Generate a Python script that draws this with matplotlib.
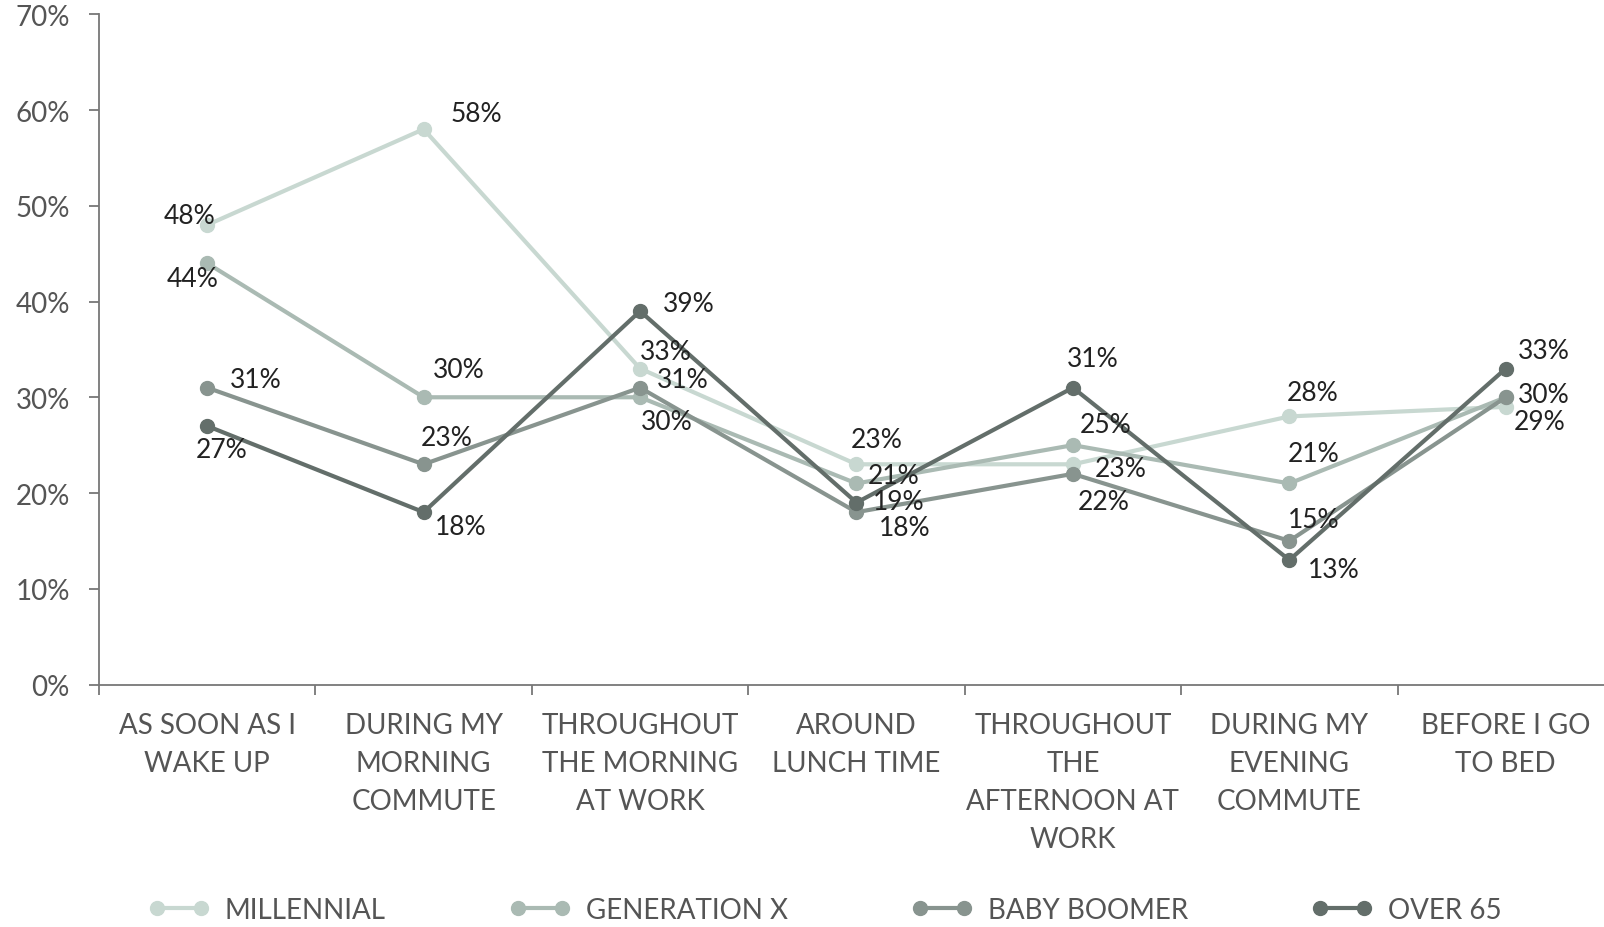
import matplotlib
matplotlib.use("Agg")
import matplotlib.pyplot as plt
from matplotlib.ticker import FixedLocator, NullFormatter

plt.rcParams['font.family'] = ['Lato', 'DejaVu Sans']

categories = ["AS SOON AS I\nWAKE UP", "DURING MY\nMORNING\nCOMMUTE",
              "THROUGHOUT\nTHE MORNING\nAT WORK", "AROUND\nLUNCH TIME",
              "THROUGHOUT\nTHE\nAFTERNOON AT\nWORK", "DURING MY\nEVENING\nCOMMUTE",
              "BEFORE I GO\nTO BED"]
series_names = ["MILLENNIAL", "GENERATION X", "BABY BOOMER", "OVER 65"]
millennial = [48, 58, 33, 23, 23, 28, 29]
generation_x = [44, 30, 30, 21, 25, 21, 30]
baby_boomer = [31, 23, 31, 18, 22, 15, 30]
over_65 = [27, 18, 39, 19, 31, 13, 33]
y_ticks = [0, 10, 20, 30, 40, 50, 60, 70]

series = [millennial, generation_x, baby_boomer, over_65]
colors = ["#c8d8d1", "#aabab3", "#88948f", "#636e6a"]

# label offsets (shown-pixel units, dx right, dy up); None = not drawn
offsets = [
    [(-17, 9), (52, 15), (25, 17), (20, 24), (47, -4), (23, 23), (33, -14)],
    [(-14, -15), (34, 27), (26, -24), (36, 8), (32, 20), (24, 29), (37, 3)],
    [(47, 8), (23, 26), (42, 8), (47, -15), (30, -27), (24, 21), None],
    [(14, -23), (36, -14), (48, 7), (41, 1), (19, 29), (43, -9), (37, 18)],
]

W, H = 1604, 928
fig = plt.figure(figsize=(W / 100, H / 100), dpi=100)
left, right = 99, 1614
top, bottom = 15.3, 685.5
ax = fig.add_axes([left / W, 1 - bottom / H, (right - left) / W, (bottom - top) / H])

x = list(range(len(categories)))
for vals, name, col, offs in zip(series, series_names, colors, offsets):
    ax.plot(x, vals, color=col, lw=3.0, marker='o', ms=10, label=name,
            solid_capstyle='round', clip_on=False)
    for xi, v, off in zip(x, vals, offs):
        if off is None:
            continue
        ax.annotate(f"{v}%", (xi, v), xytext=(off[0] * 0.7366, off[1] * 0.7366),
                    textcoords='offset points', ha='center', va='center',
                    fontsize=19, color='#222222')

ax.set_xlim(-0.5, len(categories) - 0.5)
ax.set_ylim(0, 70)
ax.set_yticks(y_ticks)
ax.set_yticklabels([f"{t}%" for t in y_ticks])
ax.set_xticks(x)
ax.set_xticklabels(categories, linespacing=1.56)
ax.xaxis.set_minor_locator(FixedLocator([i - 0.5 for i in range(len(categories) + 1)]))
ax.xaxis.set_minor_formatter(NullFormatter())
ax.tick_params(axis='x', which='major', length=0, pad=20, labelsize=20, labelcolor='#555555')
ax.tick_params(axis='x', which='minor', length=7, width=1.3, color='#777777')
ax.tick_params(axis='y', length=7, width=1.3, color='#777777', pad=14, labelsize=20,
               labelcolor='#555555')
for s in ['top', 'right']:
    ax.spines[s].set_visible(False)
for s in ['left', 'bottom']:
    ax.spines[s].set_color('#777777')
    ax.spines[s].set_linewidth(1.3)

handles, labels = ax.get_legend_handles_labels()
leg = fig.legend(handles, labels, loc='center left', bbox_to_anchor=(145 * 1.023 / W, 1 - 911 / H),
                 ncol=4, frameon=False, fontsize=20, numpoints=2, handlelength=2.2,
                 handletextpad=0.55, columnspacing=4.45, borderpad=0, borderaxespad=0)
for t in leg.get_texts():
    t.set_color('#555555')

fig.savefig("out.png", dpi=100)
